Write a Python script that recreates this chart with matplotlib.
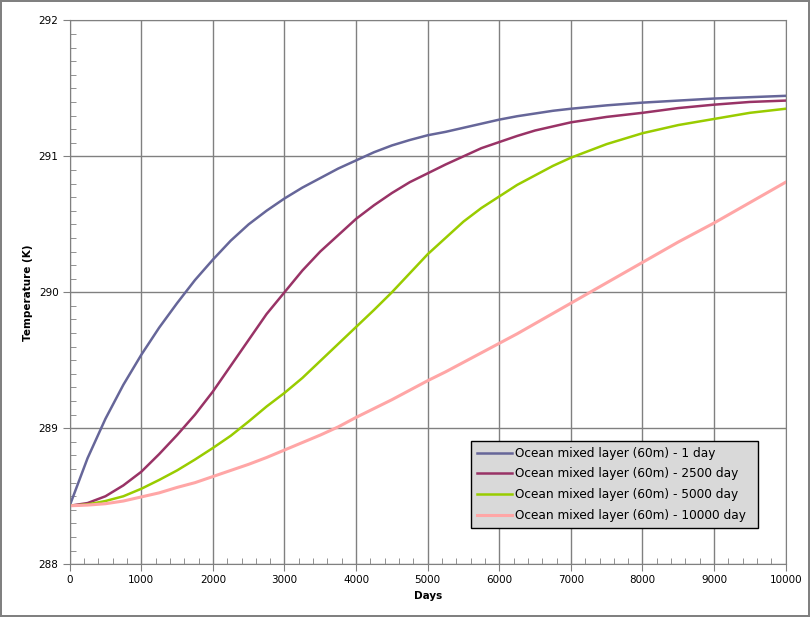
import matplotlib.pyplot as plt
from matplotlib.ticker import MultipleLocator

# Data
days = [0, 250, 500, 750, 1000, 1250, 1500, 1750, 2000, 2250, 2500, 2750, 3000,
        3250, 3500, 3750, 4000, 4250, 4500, 4750, 5000, 5250, 5500, 5750, 6000,
        6250, 6500, 6750, 7000, 7500, 8000, 8500, 9000, 9500, 10000]

temp_1 = [288.43, 288.78, 289.07, 289.32, 289.54, 289.74, 289.92, 290.09, 290.24,
          290.38, 290.50, 290.60, 290.69, 290.77, 290.84, 290.91, 290.97, 291.03,
          291.08, 291.12, 291.155, 291.18, 291.21, 291.24, 291.27, 291.295, 291.315,
          291.335, 291.35, 291.375, 291.395, 291.41, 291.425, 291.435, 291.445]
temp_2500 = [288.43, 288.45, 288.50, 288.58, 288.68, 288.81, 288.95, 289.10, 289.27,
             289.46, 289.65, 289.84, 290.00, 290.16, 290.30, 290.42, 290.54, 290.64,
             290.73, 290.81, 290.875, 290.94, 291.00, 291.06, 291.105, 291.15, 291.19,
             291.22, 291.25, 291.29, 291.32, 291.355, 291.38, 291.40, 291.41]
temp_5000 = [288.43, 288.44, 288.465, 288.50, 288.555, 288.62, 288.69, 288.77, 288.855,
             288.945, 289.05, 289.16, 289.26, 289.37, 289.495, 289.62, 289.745, 289.87,
             290.00, 290.14, 290.28, 290.40, 290.52, 290.62, 290.705, 290.79, 290.86,
             290.93, 290.99, 291.09, 291.17, 291.23, 291.275, 291.32, 291.35]
temp_10000 = [288.43, 288.435, 288.445, 288.465, 288.495, 288.525, 288.565, 288.60,
              288.645, 288.69, 288.735, 288.785, 288.84, 288.895, 288.95, 289.01, 289.08,
              289.145, 289.21, 289.28, 289.35, 289.415, 289.485, 289.555, 289.625,
              289.695, 289.77, 289.845, 289.92, 290.07, 290.22, 290.37, 290.51, 290.66,
              290.81]

labels = ["Ocean mixed layer (60m) - 1 day",
          "Ocean mixed layer (60m) - 2500 day",
          "Ocean mixed layer (60m) - 5000 day",
          "Ocean mixed layer (60m) - 10000 day"]
colors = ["#666699", "#993366", "#99cc00", "#ffa6a6"]
widths = [1.8, 1.8, 1.8, 2.2]

fig = plt.figure(figsize=(8.1, 6.17), dpi=100, edgecolor="#808080", linewidth=1.5)
ax = fig.add_axes([0.086, 0.0855, 0.884, 0.8815])

for series, lab, col, w in zip([temp_1, temp_2500, temp_5000, temp_10000], labels, colors, widths):
    ax.plot(days, series, color=col, lw=w, label=lab)

ax.set_xlim(0, 10000)
ax.set_ylim(288, 292)
ax.xaxis.set_major_locator(MultipleLocator(1000))
ax.xaxis.set_minor_locator(MultipleLocator(200))
ax.yaxis.set_major_locator(MultipleLocator(1))
ax.yaxis.set_minor_locator(MultipleLocator(0.1))
ax.grid(True, which="major", color="#808080", lw=1)
ax.set_axisbelow(True)

for s in ax.spines.values():
    s.set_color("#808080")
ax.tick_params(which="major", direction="out", length=5, color="#808080", labelsize=7.5, pad=3)
ax.tick_params(which="minor", direction="in", length=4, color="#808080")

ax.set_xlabel("Days", fontsize=7.5, fontweight="bold", labelpad=4)
ax.set_ylabel("Temperature (K)", fontsize=7.5, fontweight="bold", labelpad=4)

# legend box: 470.7..758.3 px wide, top at 440.7 px
leg = ax.legend(loc="upper left",
                bbox_to_anchor=(470.7 / 810, 1 - 440.7 / 617, 287.6 / 810, 0.0),
                bbox_transform=fig.transFigure, mode="expand", fontsize=8.7,
                frameon=True, fancybox=False, facecolor="#d9d9d9", edgecolor="black",
                framealpha=1, handlelength=2.9, handletextpad=0.3, borderpad=0.5,
                borderaxespad=0, labelspacing=0.64)
leg.get_frame().set_linewidth(1)

fig.savefig("out.png", dpi=100, edgecolor=fig.get_edgecolor())
